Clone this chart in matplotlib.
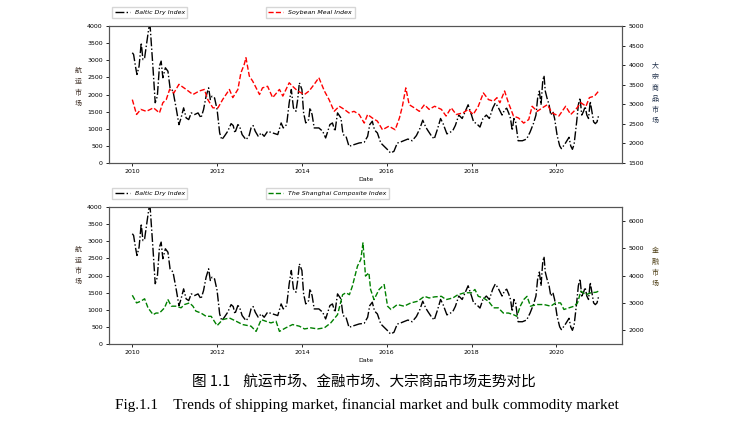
import matplotlib
matplotlib.use("Agg")
import matplotlib.pyplot as plt

plt.rcParams['font.family'] = ['DejaVu Sans', 'Noto Sans CJK SC']

# 波罗的海干散货指数 (年份, 数值)
bdi_t = [2010.0, 2010.03, 2010.08, 2010.11, 2010.16, 2010.21, 2010.25, 2010.29, 2010.35, 2010.39,
         2010.42, 2010.49, 2010.54, 2010.59, 2010.64, 2010.68, 2010.72, 2010.78, 2010.84, 2010.89,
         2010.96, 2011.04, 2011.1, 2011.15, 2011.21, 2011.27, 2011.33, 2011.39, 2011.47, 2011.55,
         2011.62, 2011.68, 2011.74, 2011.8, 2011.84, 2011.88, 2011.94, 2012.0, 2012.06, 2012.11,
         2012.17, 2012.25, 2012.33, 2012.38, 2012.42, 2012.49, 2012.53, 2012.59, 2012.68, 2012.75,
         2012.8, 2012.85, 2012.9, 2012.97, 2013.04, 2013.11, 2013.19, 2013.31, 2013.43, 2013.51,
         2013.56, 2013.64, 2013.7, 2013.75, 2013.8, 2013.86, 2013.9, 2013.94, 2014.0, 2014.04,
         2014.09, 2014.16, 2014.19, 2014.24, 2014.29, 2014.4, 2014.49, 2014.56, 2014.66, 2014.72,
         2014.78, 2014.84, 2014.92, 2014.97, 2015.04, 2015.11, 2015.23, 2015.35, 2015.47, 2015.55,
         2015.6, 2015.66, 2015.7, 2015.74, 2015.78, 2015.86, 2015.94, 2016.02, 2016.09, 2016.17,
         2016.25, 2016.3, 2016.4, 2016.5, 2016.6, 2016.7, 2016.78, 2016.85, 2016.92, 2016.97,
         2017.05, 2017.12, 2017.2, 2017.27, 2017.33, 2017.42, 2017.5, 2017.56, 2017.62, 2017.7,
         2017.78, 2017.85, 2017.92, 2018.0, 2018.05, 2018.12, 2018.2, 2018.27, 2018.35, 2018.42,
         2018.5, 2018.56, 2018.62, 2018.68, 2018.72, 2018.78, 2018.83, 2018.88, 2018.92, 2018.96,
         2019.0, 2019.04, 2019.1, 2019.2, 2019.3, 2019.38, 2019.46, 2019.52, 2019.56, 2019.6,
         2019.64, 2019.68, 2019.71, 2019.74, 2019.78, 2019.83, 2019.87, 2019.92, 2019.96, 2020.02,
         2020.08, 2020.12, 2020.2, 2020.25, 2020.3, 2020.34, 2020.38, 2020.42, 2020.48, 2020.52,
         2020.56, 2020.6, 2020.64, 2020.68, 2020.72, 2020.76, 2020.8, 2020.84, 2020.88, 2020.92,
         2020.96, 2021.0]
bdi_v = [3220, 3170, 2780, 2585, 2830, 3510, 3020, 3070, 3610, 3950,
         4000, 2730, 1760, 1950, 2830, 2975, 2490, 2780, 2680, 2195,
         2100, 1560, 1120, 1317, 1610, 1317, 1268, 1463, 1415, 1463,
         1317, 1560, 1950, 2195, 1854, 1950, 1900, 1560, 878, 683,
         780, 927, 1150, 1093, 878, 1122, 1073, 830, 683, 780,
         1024, 1093, 927, 780, 878, 780, 927, 878, 830, 1170,
         1024, 1122, 1756, 2146, 1610, 1512, 1854, 2341, 2146, 1463,
         1170, 1268, 1610, 1415, 1024, 1024, 927, 732, 1122, 1170,
         927, 1463, 1317, 830, 780, 488, 537, 585, 605, 780,
         1122, 1220, 1024, 927, 878, 585, 488, 390, 293, 341,
         585, 600, 650, 700, 650, 800, 1000, 1250, 1050, 950,
         800, 700, 1000, 1300, 1150, 850, 900, 950, 1100, 1400,
         1300, 1500, 1700, 1400, 1200, 1150, 1050, 1300, 1400, 1300,
         1600, 1750, 1650, 1500, 1400, 1550, 1600, 1450, 1300, 950,
         1300, 1200, 650, 650, 700, 900, 1150, 1400, 1900, 2100,
         1700, 2400, 2550, 2100, 1900, 1700, 1400, 1500, 1300, 800,
         500, 420, 550, 650, 750, 500, 400, 550, 1200, 1700,
         1900, 1400, 1500, 1650, 1400, 1300, 1800, 1500, 1200, 1150,
         1200, 1400]

# 豆粕指数
soy_t = [2010.0, 2010.1, 2010.2, 2010.33, 2010.5, 2010.64, 2010.72, 2010.8, 2010.88, 2010.98,
         2011.1, 2011.27, 2011.43, 2011.58, 2011.7, 2011.78, 2011.9, 2012.02, 2012.13, 2012.29,
         2012.37, 2012.49, 2012.56, 2012.64, 2012.68, 2012.76, 2012.84, 2012.92, 2013.0, 2013.07,
         2013.19, 2013.31, 2013.47, 2013.55, 2013.7, 2013.78, 2013.9, 2014.06, 2014.17, 2014.29,
         2014.4, 2014.53, 2014.64, 2014.76, 2014.88, 2015.0, 2015.11, 2015.23, 2015.35, 2015.47,
         2015.55, 2015.66, 2015.78, 2015.9, 2016.05, 2016.2, 2016.3, 2016.37, 2016.45, 2016.53,
         2016.65, 2016.77, 2016.89, 2017.0, 2017.13, 2017.29, 2017.4, 2017.52, 2017.64, 2017.8,
         2017.92, 2018.04, 2018.16, 2018.28, 2018.4, 2018.52, 2018.6, 2018.67, 2018.78, 2018.87,
         2018.99, 2019.11, 2019.23, 2019.35, 2019.43, 2019.55, 2019.67, 2019.79, 2019.9, 2020.06,
         2020.22, 2020.34, 2020.46, 2020.58, 2020.7, 2020.78, 2020.9, 2021.0]
soy_v = [3120, 2740, 2870, 2820, 2910, 2780, 3040, 3120, 3380, 3290,
         3510, 3380, 3250, 3340, 3380, 3120, 2910, 2910, 3120, 3380,
         3170, 3380, 3800, 4020, 4190, 3720, 3590, 3420, 3250, 3420,
         3460, 3170, 3380, 3210, 3550, 3460, 3340, 3250, 3340, 3510,
         3680, 3340, 3120, 2820, 2950, 2870, 2780, 2820, 2740, 2520,
         2740, 2650, 2570, 2350, 2440, 2350, 2650, 2950, 3420, 2990,
         2910, 2820, 2990, 2870, 2950, 2870, 2700, 2910, 2740, 2780,
         2870, 2740, 2950, 3290, 3120, 3080, 3170, 3040, 3340, 3040,
         2700, 2650, 2520, 2610, 2950, 2820, 2910, 2990, 2780, 2700,
         2950, 2740, 2870, 3040, 2950, 3170, 3210, 3340]

# 上证综合指数
sse_t = [2010.0, 2010.1, 2010.2, 2010.29, 2010.37, 2010.49, 2010.56, 2010.64, 2010.76, 2010.84,
         2010.92, 2011.04, 2011.15, 2011.23, 2011.35, 2011.43, 2011.5, 2011.62, 2011.74, 2011.86,
         2012.0, 2012.13, 2012.29, 2012.45, 2012.6, 2012.8, 2012.92, 2013.04, 2013.15, 2013.27,
         2013.39, 2013.47, 2013.62, 2013.78, 2013.94, 2014.06, 2014.21, 2014.37, 2014.53, 2014.68,
         2014.84, 2014.96, 2015.04, 2015.12, 2015.19, 2015.31, 2015.39, 2015.44, 2015.5, 2015.58,
         2015.62, 2015.7, 2015.82, 2015.94, 2016.02, 2016.1, 2016.25, 2016.41, 2016.57, 2016.73,
         2016.89, 2017.0, 2017.13, 2017.29, 2017.4, 2017.56, 2017.68, 2017.84, 2018.0, 2018.08,
         2018.16, 2018.28, 2018.4, 2018.52, 2018.63, 2018.75, 2018.87, 2018.99, 2019.07, 2019.15,
         2019.23, 2019.31, 2019.39, 2019.55, 2019.71, 2019.87, 2019.98, 2020.1, 2020.18, 2020.3,
         2020.42, 2020.5, 2020.58, 2020.7, 2020.82, 2020.94, 2021.0]
sse_v = [3280, 3000, 3060, 3150, 2820, 2570, 2630, 2630, 2820, 3120,
         2880, 2880, 2820, 2940, 3000, 2880, 2700, 2630, 2510, 2510,
         2170, 2390, 2450, 2330, 2210, 2150, 1960, 2390, 2330, 2270,
         2330, 1960, 2090, 2210, 2150, 2050, 2090, 2050, 2090, 2270,
         2570, 3300, 3370, 3300, 3610, 4340, 4590, 5190, 3980, 4100,
         3490, 3120, 3490, 3670, 2880, 2760, 2940, 2880, 3000, 3060,
         3240, 3180, 3220, 3240, 3120, 3180, 3300, 3370, 3370, 3490,
         3240, 3180, 3060, 2820, 2820, 2630, 2630, 2570, 2510, 2880,
         3120, 3240, 2880, 2940, 2940, 2880, 3000, 3000, 2760, 2820,
         2880, 3000, 3430, 3300, 3370, 3390, 3430]

fig = plt.figure(figsize=(7.33, 4.21), dpi=100)

fs = 4.5
leg_prop = {'style': 'italic', 'size': fs}
cjk = ['Noto Sans CJK SC']


def style_axes(ax):
    ax.tick_params(labelsize=fs, length=2.5, width=0.6, pad=2)
    for s in ax.spines.values():
        s.set_linewidth(0.8)
        s.set_color('#555555')


def side_label(ax, text, x, y, color):
    ax.set_ylabel(text, rotation=0, fontsize=5, linespacing=1.5, family=cjk,
                  va='center', ha='center', color=color)
    ax.yaxis.set_label_coords(x, y)


def top_legend(ax, x):
    ax.legend(loc='lower left', bbox_to_anchor=(x, 1.06), borderaxespad=0, prop=leg_prop,
              handlelength=2.4, fancybox=False, edgecolor='#cccccc')


years = [2010, 2012, 2014, 2016, 2018, 2020]

# 上图：航运市场 vs 大宗商品市场
ax1 = fig.add_axes([0.1487, 0.6128, 0.6999, 0.3254])
ax1.plot(bdi_t, bdi_v, color='black', linestyle='-.', linewidth=1.0, label='Baltic Dry Index')
ax1.set_ylim(0, 4000)
ax1.set_xticks(years)
ax1.set_xlabel('Date', fontsize=fs, labelpad=2)
side_label(ax1, '航\n运\n市\n场', -0.060, 0.55, '#3a2a20')
style_axes(ax1)
top_legend(ax1, 0.006)

ax1r = ax1.twinx()
ax1r.plot(soy_t, soy_v, color='red', linestyle='--', linewidth=1.0, label='Soybean Meal Index')
ax1r.set_ylim(1500, 5000)
side_label(ax1r, '大\n宗\n商\n品\n市\n场', 1.065, 0.51, '#20304a')
style_axes(ax1r)
top_legend(ax1r, 0.306)

# 下图：航运市场 vs 金融市场
ax2 = fig.add_axes([0.1487, 0.1829, 0.6999, 0.3254])
ax2.plot(bdi_t, bdi_v, color='black', linestyle='-.', linewidth=1.0, label='Baltic Dry Index')
ax2.set_ylim(0, 4000)
ax2.set_xticks(years)
ax2.set_xlabel('Date', fontsize=fs, labelpad=2)
side_label(ax2, '航\n运\n市\n场', -0.060, 0.57, '#3a2a20')
style_axes(ax2)
top_legend(ax2, 0.006)

ax2r = ax2.twinx()
ax2r.plot(sse_t, sse_v, color='green', linestyle='--', linewidth=1.0, label='The Shanghai Composite Index')
ax2r.set_ylim(1500, 6500)
ax2r.set_yticks([2000, 3000, 4000, 5000, 6000])
side_label(ax2r, '金\n融\n市\n场', 1.065, 0.56, '#4a3a10')
style_axes(ax2r)
top_legend(ax2r, 0.306)

# 图题
fig.text(0.497, 1 - 382 / 421, '图 1.1    航运市场、金融市场、大宗商品市场走势对比',
         ha='center', va='center', fontsize=10.5, family=cjk, fontweight='light')
fig.text(0.50, 1 - 405 / 421,
         'Fig.1.1    Trends of shipping market, financial market and bulk commodity market',
         ha='center', va='center', fontsize=11, family=['Liberation Serif'])

fig.savefig('out.png', dpi=100)
